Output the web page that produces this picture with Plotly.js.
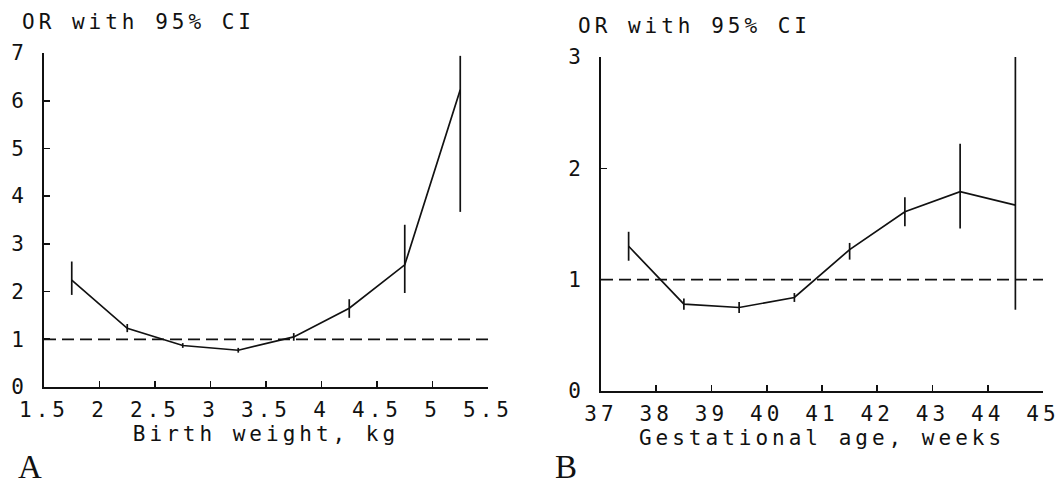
<!DOCTYPE html>
<html><head><meta charset="utf-8">
<script src="https://cdn.plot.ly/plotly-3.0.1.min.js"></script>
<style>
html,body{margin:0;padding:0;background:#fff;}
svg text{letter-spacing:4px;}
</style>
</head><body>
<div id="chart" style="width:1061px;height:487px;"></div>
<script>
// Panel A: birth weight
var bwX = [1.75, 2.25, 2.75, 3.25, 3.75, 4.25, 4.75, 5.25];
var bwOR = [2.24, 1.23, 0.87, 0.77, 1.05, 1.65, 2.56, 6.23];
var bwLow = [1.93, 1.15, 0.82, 0.72, 0.97, 1.45, 1.97, 3.67];
var bwHigh = [2.63, 1.32, 0.92, 0.82, 1.13, 1.84, 3.40, 6.94];
// Panel B: gestational age
var gaX = [37.5, 38.5, 39.5, 40.5, 41.5, 42.5, 43.5, 44.5];
var gaOR = [1.30, 0.78, 0.75, 0.84, 1.27, 1.61, 1.79, 1.67];
var gaLow = [1.17, 0.73, 0.70, 0.80, 1.18, 1.48, 1.46, 0.73];
var gaHigh = [1.43, 0.83, 0.80, 0.88, 1.33, 1.74, 2.22, 3.00];
var refOR = 1;
var yTitle = "OR with 95% CI";
var xTitleA = "Birth weight, kg";
var xTitleB = "Gestational age, weeks";

function plus(v, hi){ return hi.map(function(h,i){return h - v[i];}); }
function minus(v, lo){ return lo.map(function(l,i){return v[i] - l;}); }

var mono = "DejaVu Sans Mono, Liberation Mono, monospace";
var ink = "#111";
var fs = 21;

var traces = [
  {x: bwX, y: bwOR, xaxis:'x', yaxis:'y', mode:'lines', type:'scatter',
   line:{color:ink, width:1.7},
   error_y:{type:'data', symmetric:false, array:plus(bwOR,bwHigh), arrayminus:minus(bwOR,bwLow),
            width:0, thickness:1.7, color:ink}, hoverinfo:'skip', showlegend:false},
  {x: gaX, y: gaOR, xaxis:'x2', yaxis:'y2', mode:'lines', type:'scatter',
   line:{color:ink, width:1.7},
   error_y:{type:'data', symmetric:false, array:plus(gaOR,gaHigh), arrayminus:minus(gaOR,gaLow),
            width:0, thickness:1.7, color:ink}, hoverinfo:'skip', showlegend:false}
];

function xax(dom, rng, dt, title){
  return {domain:dom, range:rng, dtick:dt, tick0:rng[0], showgrid:false, zeroline:false,
    showline:true, linecolor:ink, linewidth:2, ticks:'inside', ticklen:6, tickwidth:1.6, tickcolor:ink,
    ticklabelstandoff:3,
    tickfont:{family:mono, size:fs, color:ink},
    title:{text:title, font:{family:mono, size:fs, color:ink}, standoff:4}, fixedrange:true};
}
function yax(dom, rng, anchor){
  return {domain:dom, range:rng, dtick:1, showgrid:false, zeroline:false, anchor:anchor,
    showline:true, linecolor:ink, linewidth:2, ticks:'inside', ticklen:6, tickwidth:1.6, tickcolor:ink,
    ticklabelstandoff:10,
    tickfont:{family:mono, size:fs, color:ink}, fixedrange:true};
}

var layout = {
  width:1061, height:487, margin:{l:0,r:0,t:0,b:0},
  paper_bgcolor:'#fff', plot_bgcolor:'#fff', showlegend:false,
  xaxis: Object.assign(xax([44/1061, 488/1061], [1.5,5.5], 0.5, xTitleA), {anchor:'y'}),
  yaxis: yax([1-387/487, 1-53/487], [0,7], 'x'),
  xaxis2: Object.assign(xax([601/1061, 1043/1061], [37,45], 1, xTitleB), {anchor:'y2'}),
  yaxis2: yax([1-391/487, 1-57/487], [0,3], 'x2'),
  shapes:[
    {type:'line', xref:'x domain', yref:'y', x0:0, x1:1, y0:refOR, y1:refOR,
     line:{color:ink, width:1.7, dash:'12px,6px'}},
    {type:'line', xref:'x2 domain', yref:'y2', x0:0, x1:1, y0:refOR, y1:refOR,
     line:{color:ink, width:1.7, dash:'12px,6px'}}
  ],
  annotations:[
    {text:yTitle, xref:'paper', yref:'paper', x:20/1061, y:1-22/487, xanchor:'left', yanchor:'middle',
     showarrow:false, font:{family:mono, size:fs, color:ink}},
    {text:yTitle, xref:'paper', yref:'paper', x:576/1061, y:1-26/487, xanchor:'left', yanchor:'middle',
     showarrow:false, font:{family:mono, size:fs, color:ink}},
    {text:"A", xref:'paper', yref:'paper', x:16/1061, y:1-467/487, xanchor:'left', yanchor:'middle',
     showarrow:false, font:{family:"Liberation Serif, DejaVu Serif, serif", size:33, color:ink}},
    {text:"B", xref:'paper', yref:'paper', x:553/1061, y:1-467/487, xanchor:'left', yanchor:'middle',
     showarrow:false, font:{family:"Liberation Serif, DejaVu Serif, serif", size:33, color:ink}}
  ]
};

Plotly.newPlot('chart', traces, layout, {displayModeBar:false, staticPlot:true});
</script>
</body></html>
